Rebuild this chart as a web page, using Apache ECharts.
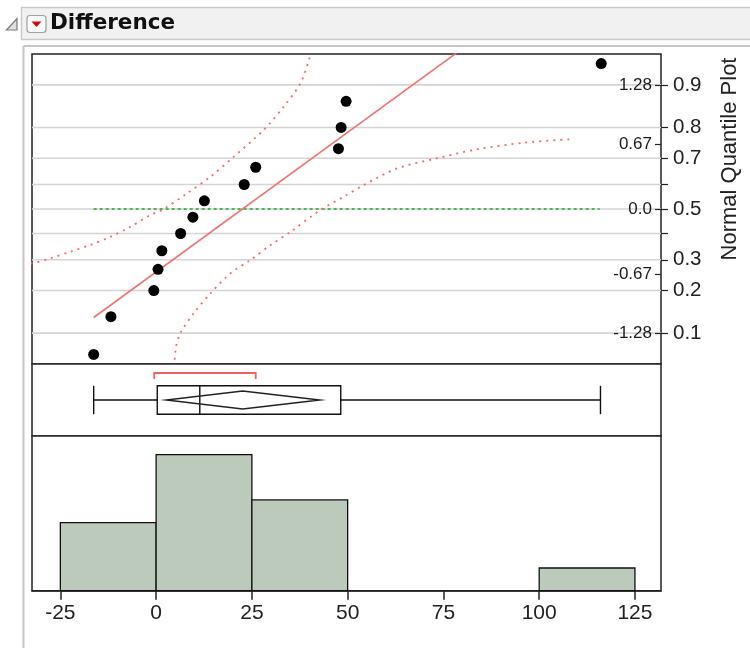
<!DOCTYPE html>
<html>
<head>
<meta charset="utf-8">
<script src="https://cdn.jsdelivr.net/npm/echarts@6/dist/echarts.min.js"></script>
<style>
html,body{margin:0;padding:0;background:#fff;}
#chart{width:750px;height:648px;}
</style>
</head>
<body>
<div id="chart"></div>
<script>
// ---- data ----
var xMin = -32.4, xMax = 131.8;
var xTicks = [-25, 0, 25, 50, 75, 100, 125];

// observations (Difference) and their normal quantiles
var ptsX = [-16.3, -11.8, -0.6, 0.5, 1.5, 6.4, 9.6, 12.6, 23.0, 26.0, 47.6, 48.3, 49.6, 116.2];
var ptsZ = [-1.501, -1.111, -0.842, -0.623, -0.431, -0.253, -0.084, 0.084, 0.253, 0.431, 0.623, 0.842, 1.111, 1.501];

// normal fit line (endpoints)
var fitX = [-16.3, 116.2];
var fitZ = [-1.12, 2.70];

// zero reference line
var zeroX = [-16.3, 115.8];

// confidence bounds
var upperX = [-40.0, -32.4, -27.6, -22.4, -17.2, -11.9, -6.7, -1.5, 2.0, 8.1, 14.2, 20.3, 28.1, 33.3, 37.7, 40.1, 40.9];
var upperZ = [-0.60, -0.561, -0.509, -0.441, -0.372, -0.286, -0.183, -0.062, 0.0, 0.162, 0.334, 0.540, 0.816, 1.057, 1.299, 1.567, 1.70];
var lowerX = [4.6, 5.2, 6.3, 9.8, 14.2, 19.4, 24.6, 29.9, 35.1, 42.9, 49.0, 54.2, 63.0, 73.4, 83.9, 96.1, 108.3];
var lowerZ = [-1.70, -1.423, -1.284, -1.077, -0.871, -0.664, -0.527, -0.372, -0.235, -0.010, 0.127, 0.248, 0.420, 0.524, 0.617, 0.685, 0.720];

// quantile axis (inside) and probability axis (outside)
var zTicks = [-1.28, -0.67, 0, 0.67, 1.28];
var zLabels = ['-1.28', '-0.67', '0.0', '0.67', '1.28'];
var probZ = [-1.2816, -0.8416, -0.5244, -0.2533, 0, 0.2533, 0.5244, 0.8416, 1.2816];
var probLabels = ['0.1', '0.2', '0.3', '', '0.5', '', '0.7', '0.8', '0.9'];

// outlier box plot: min, q1, median, q3, max
var boxStats = [-16.3, 0.3, 11.4, 48.2, 116.0];
// means diamond: lower CI, mean, upper CI
var meanDiamond = [2.7, 22.6, 42.7];
// shortest half
var shortestHalf = [-0.5, 26.0];

// histogram bins: [start, end, count]
var binStart = [-25, 0, 25, 100];
var binEnd = [0, 25, 50, 125];
var binCount = [3, 6, 4, 1];
var histMax = 6.82;

// ---- chart ----
var FONT = '"Liberation Sans", Arial, sans-serif';
var TFONT = '"DejaVu Sans", Verdana, sans-serif';
var chart = echarts.init(document.getElementById('chart'), null, {renderer: 'canvas'});

function zip(a, b) { return a.map(function (v, i) { return [v, b[i]]; }); }
function findLabel(v, vals, labels) {
  for (var i = 0; i < vals.length; i++) if (Math.abs(vals[i] - v) < 1e-6) return labels[i];
  return '';
}
var probLabelValues = probZ.filter(function (z, i) { return probLabels[i] !== ''; });

var gridL = 32, gridW = 629;
var frame = {show: true, borderColor: '#222', borderWidth: 1.5, backgroundColor: '#fff'};

var option = {
  animation: false,
  backgroundColor: '#fff',
  textStyle: {fontFamily: FONT},
  grid: [
    Object.assign({left: gridL, top: 54, width: gridW, height: 310}, frame),
    Object.assign({left: gridL, top: 364, width: gridW, height: 72}, frame),
    Object.assign({left: gridL, top: 436, width: gridW, height: 154.7}, frame)
  ],
  xAxis: [
    {gridIndex: 0, type: 'value', min: xMin, max: xMax, show: false},
    {gridIndex: 1, type: 'value', min: xMin, max: xMax, show: false},
    {gridIndex: 2, type: 'value', min: xMin, max: xMax,
      axisLine: {show: true, onZero: false, lineStyle: {color: '#222', width: 1.5}},
      axisTick: {show: true, customValues: xTicks, length: 9, lineStyle: {color: '#222', width: 1.5}},
      axisLabel: {customValues: xTicks, fontSize: 21, color: '#222', margin: 12, fontFamily: FONT},
      splitLine: {show: false}}
  ],
  yAxis: [
    {gridIndex: 0, type: 'value', min: -1.6, max: 1.6, position: 'right',
      axisLine: {show: false, onZero: false},
      axisTick: {show: true, inside: true, customValues: zTicks, length: 6, lineStyle: {color: '#222', width: 1.2}},
      axisLabel: {show: true, inside: true, customValues: zTicks, margin: 9, fontSize: 17, color: '#1a1a1a', fontFamily: FONT,
        formatter: function (v) { return findLabel(v, zTicks, zLabels); }},
      splitLine: {show: false}},
    {gridIndex: 0, type: 'value', min: -1.6, max: 1.6, position: 'right',
      axisLine: {show: false, onZero: false},
      axisTick: {show: true, inside: false, customValues: probZ, length: 7, lineStyle: {color: '#222', width: 1.2}},
      axisLabel: {show: true, customValues: probLabelValues, margin: 12, fontSize: 20.5, color: '#222', fontFamily: FONT,
        formatter: function (v) { return findLabel(v, probZ, probLabels); }},
      splitLine: {show: false}},
    {gridIndex: 1, type: 'value', min: 0, max: 1, show: false},
    {gridIndex: 2, type: 'value', min: 0, max: histMax, show: false}
  ],
  series: [
    { // grid lines at probability positions
      type: 'custom', xAxisIndex: 0, yAxisIndex: 0, z: 0, silent: true,
      data: probZ.map(function (z) { return [xMin, z]; }),
      renderItem: function (params, api) {
        var cs = params.coordSys;
        var y = api.coord([api.value(0), api.value(1)])[1];
        return {type: 'line', shape: {x1: cs.x, y1: y, x2: cs.x + cs.width, y2: y},
          style: {stroke: '#d4d4d4', lineWidth: 1.6}};
      }
    },
    { // zero line
      type: 'line', xAxisIndex: 0, yAxisIndex: 0, z: 1,
      data: zip(zeroX, [0, 0]), symbol: 'none',
      lineStyle: {color: '#1fa830', width: 1.5, type: [3, 3]}
    },
    {type: 'line', xAxisIndex: 0, yAxisIndex: 0, z: 2, clip: true, symbol: 'none', smooth: 0.3,
      data: zip(upperX, upperZ), lineStyle: {color: '#f46a6a', width: 1.8, type: [2, 5]}},
    {type: 'line', xAxisIndex: 0, yAxisIndex: 0, z: 2, clip: true, symbol: 'none', smooth: 0.3,
      data: zip(lowerX, lowerZ), lineStyle: {color: '#f46a6a', width: 1.8, type: [2, 5]}},
    {type: 'line', xAxisIndex: 0, yAxisIndex: 0, z: 3, clip: true, symbol: 'none',
      data: zip(fitX, fitZ), lineStyle: {color: '#f07474', width: 1.6}},
    {type: 'scatter', xAxisIndex: 0, yAxisIndex: 0, z: 4, symbolSize: 11,
      itemStyle: {color: '#000', opacity: 1}, data: zip(ptsX, ptsZ)},
    { // box plot panel
      type: 'custom', xAxisIndex: 1, yAxisIndex: 2, z: 3,
      data: [[boxStats[0], boxStats[1], boxStats[2], boxStats[3], boxStats[4],
              meanDiamond[0], meanDiamond[1], meanDiamond[2], shortestHalf[0], shortestHalf[1]]],
      renderItem: function (params, api) {
        var cs = params.coordSys;
        var cy = cs.y + cs.height / 2;
        function px(i) { return api.coord([api.value(i), 0.5])[0]; }
        var mn = px(0), q1 = px(1), md = px(2), q3 = px(3), mx = px(4);
        var dl = px(5), dm = px(6), du = px(7), sl = px(8), su = px(9);
        var bh = 14.2, dh = 9;
        var ls = {stroke: '#111', lineWidth: 1.4, fill: null};
        return {type: 'group', children: [
          {type: 'line', shape: {x1: mn, y1: cy, x2: q1, y2: cy}, style: ls},
          {type: 'line', shape: {x1: q3, y1: cy, x2: mx, y2: cy}, style: ls},
          {type: 'line', shape: {x1: mn, y1: cy - bh, x2: mn, y2: cy + bh}, style: ls},
          {type: 'line', shape: {x1: mx, y1: cy - bh, x2: mx, y2: cy + bh}, style: ls},
          {type: 'rect', shape: {x: q1, y: cy - bh, width: q3 - q1, height: 2 * bh}, style: ls},
          {type: 'line', shape: {x1: md, y1: cy - bh, x2: md, y2: cy + bh}, style: ls},
          {type: 'polygon', shape: {points: [[dl, cy], [dm, cy - dh], [du, cy], [dm, cy + dh]]},
            style: {stroke: '#222', lineWidth: 1.5, fill: null}},
          {type: 'polyline', shape: {points: [[sl, cy - 21], [sl, cy - 27], [su, cy - 27], [su, cy - 21]]},
            style: {stroke: '#f06262', lineWidth: 1.8, fill: null}}
        ]};
      }
    },
    { // histogram
      type: 'custom', xAxisIndex: 2, yAxisIndex: 3, z: 3,
      data: binStart.map(function (s, i) { return [s, binEnd[i], binCount[i]]; }),
      renderItem: function (params, api) {
        var p0 = api.coord([api.value(0), api.value(2)]);
        var p1 = api.coord([api.value(1), 0]);
        return {type: 'rect', shape: {x: p0[0], y: p0[1], width: p1[0] - p0[0], height: p1[1] - p0[1]},
          style: {fill: '#bccabb', stroke: '#111', lineWidth: 1.3}};
      }
    }
  ],
  graphic: [
    {type: 'rect', shape: {x: 21.5, y: 7.5, width: 740, height: 32}, style: {fill: '#f1f1f1', stroke: '#c9c9c9', lineWidth: 1.5}, z: 0},
    {type: 'line', shape: {x1: 23.5, y1: 46, x2: 760, y2: 46}, style: {stroke: '#c6c6c6', lineWidth: 2}},
    {type: 'line', shape: {x1: 23.5, y1: 46, x2: 23.5, y2: 660}, style: {stroke: '#c6c6c6', lineWidth: 2}},
    {type: 'polygon', shape: {points: [[17, 18.5], [17, 30], [6.5, 30]]}, style: {fill: '#e0e0e0', stroke: '#7a7a7a', lineWidth: 1.2}},
    {type: 'rect', shape: {x: 27, y: 15.5, width: 19, height: 17, r: 3}, style: {fill: '#fafafa', stroke: '#a0a0a0', lineWidth: 1.2}},
    {type: 'polygon', shape: {points: [[31.5, 21.5], [41.5, 21.5], [36.5, 27]]}, style: {fill: '#d01010'}},
    {type: 'text', x: 50, y: 23.5, style: {text: 'Difference', font: 'bold 21.5px ' + TFONT, fill: '#111', textVerticalAlign: 'middle', textAlign: 'left'}},
    {type: 'text', x: 730, y: 159, rotation: Math.PI / 2, style: {text: 'Normal Quantile Plot', font: '22px ' + FONT, fill: '#222', textAlign: 'center', textVerticalAlign: 'middle'}}
  ]
};
chart.setOption(option);
</script>
</body>
</html>
